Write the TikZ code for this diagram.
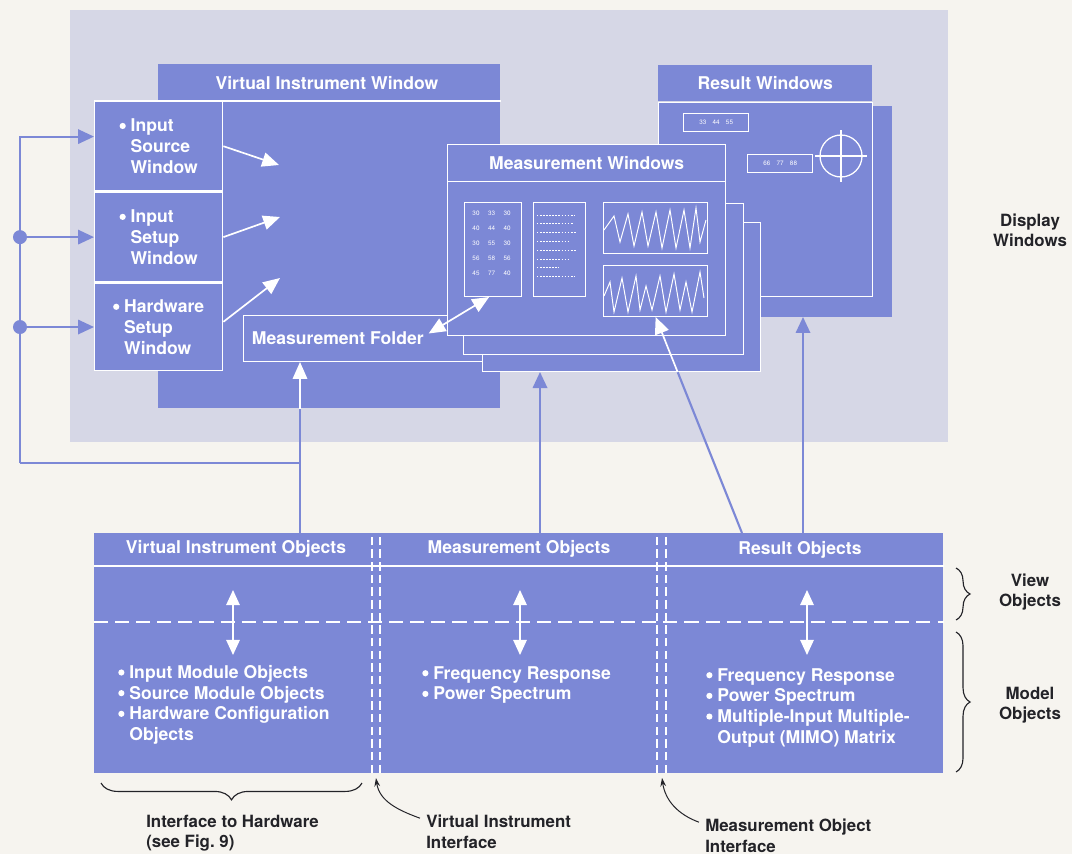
\documentclass[tikz,border=0pt]{standalone}
\usepackage{fontspec}
\setmainfont{TeX Gyre Heros}
\usetikzlibrary{positioning, arrows.meta, calc, decorations.pathreplacing}

\definecolor{paper}{RGB}{246,244,239}
\definecolor{panelgrey}{RGB}{214,215,230}
\definecolor{hpblue}{RGB}{124,136,214}
\definecolor{inkgrey}{RGB}{35,35,40}

\newcommand{\bul}{\tikz[baseline=-0.62ex]\fill[white] (0,0) circle (2.2pt);}
\newcommand{\hang}{\hphantom{\bul\ }}

\begin{document}
\begin{tikzpicture}[
  boxtext/.style={text=white, font=\bfseries\fontsize{12.5}{14.7}\selectfont, align=left},
  outtext/.style={text=inkgrey, font=\bfseries\fontsize{12}{14.5}\selectfont},
  bluebox/.style={fill=hpblue, inner sep=0pt, anchor=south west},
  winframe/.style={fill=hpblue, draw=white, line width=1pt, inner sep=0pt, anchor=south west},
  subframe/.style={draw=white, line width=0.9pt, inner sep=0pt, anchor=south west},
  panel/.style={winframe, anchor=north west, minimum width=3.2cm, boxtext},
  tinynum/.style={text=white, font=\fontsize{4.5}{5}\selectfont, inner sep=0pt},
  divider/.style={white, line width=1pt},
  ifline/.style={white, line width=0.9pt, dash pattern=on 6pt off 3pt},
  viewline/.style={white, line width=0.9pt, dash pattern=on 10pt off 5pt},
  whitearrow/.style={-{Triangle[length=0.42cm, width=0.36cm]}, white, line width=1.2pt},
  bluearrow/.style={-{Triangle[length=0.4cm, width=0.36cm]}, hpblue, line width=1.5pt},
  blueline/.style={hpblue, line width=1.5pt},
  dualarrow/.style={{Triangle[length=0.38cm, width=0.34cm]}-{Triangle[length=0.38cm, width=0.34cm]}, white, line width=1pt},
  callout/.style={-{Stealth[length=6pt, width=4pt]}, inkgrey, line width=0.7pt},
  curly/.style={decorate, decoration={brace, amplitude=#1}, inkgrey, line width=0.8pt},
  curly/.default=8pt,
]

%% ── Paper and display area ───────────────────────────────────────────────────
\fill[paper] (0,0) rectangle (26.8,21.35);
\useasboundingbox (0,0) rectangle (26.8,21.35);
\fill[panelgrey] (1.75,10.3) rectangle (23.7,21.1);

%% ── Virtual instrument window ────────────────────────────────────────────────
\node[bluebox, anchor=north west, minimum width=8.55cm, minimum height=8.6cm] (viwin) at (3.95,19.75) {};
\node[boxtext] (vititle) at (8.175,19.28) {Virtual Instrument Window};

\node[panel, minimum height=2.225cm] (p1) at (2.35,18.825) {\bul\ Input\\\hang Source\\\hang Window};
\node[panel, minimum height=2.25cm, below=0pt of p1] (p2) {\bul\ Input\\\hang Setup\\\hang Window};
\node[panel, minimum height=2.175cm, below=0pt of p2] (p3) {\bul\ Hardware\\\hang Setup\\\hang Window};
\draw[divider] (p1.north west) -- (p1.north west -| viwin.east);

\node[winframe, minimum width=8.925cm, minimum height=1.15cm] (folder) at (6.075,12.3) {};
\node[boxtext, anchor=west] (foldlbl) at ([xshift=1mm]folder.west) {Measurement Folder};

%% ── Result windows ───────────────────────────────────────────────────────────
\node[bluebox, minimum width=5.55cm, minimum height=5.275cm] (rshadow) at (16.75,13.425) {};
\node[winframe, minimum width=5.35cm, minimum height=4.85cm] (rwin) at (16.45,13.925) {};
\node[bluebox, minimum width=5.35cm, minimum height=0.9cm, boxtext, align=center] (rtbar) at (rwin.north west) {Result Windows};
\node[subframe, minimum width=1.625cm, minimum height=0.45cm] (rbox1) at (17.075,18.05) {};
\node[tinynum] at (rbox1) {33\quad 44\quad 55};
\node[subframe, minimum width=1.625cm, minimum height=0.45cm] (rbox2) at (18.675,17.025) {};
\node[tinynum] at (rbox2) {66\quad 77\quad 88};
\node[circle, draw=white, line width=0.9pt, minimum size=1.05cm] (target) at (21.025,17.45) {};
\draw[white, line width=0.9pt] ([xshift=-1mm]target.west) -- ([xshift=1mm]target.east);
\draw[white, line width=0.9pt] ([yshift=1mm]target.north) -- ([yshift=-1mm]target.south);

%% ── Measurement windows (stack) ──────────────────────────────────────────────
\node[winframe, minimum width=6.95cm, minimum height=3.725cm] (mw3) at (12.05,12.05) {};
\node[winframe, minimum width=7.0cm, minimum height=3.775cm] (mw2) at (11.575,12.475) {};
\node[winframe, minimum width=6.95cm, minimum height=4.775cm] (mw1) at (11.175,12.95) {};
\draw[divider] ($(mw1.north west)+(0,-0.95)$) -- ($(mw1.north east)+(0,-0.95)$);
\node[boxtext] (mwtitle) at ($(mw1.north)+(0,-0.49)$) {Measurement Windows};

\node[subframe, minimum width=1.425cm, minimum height=2.35cm] (tbl) at (11.6,13.925) {};
\node[subframe, minimum width=1.3cm, minimum height=2.35cm] (txt) at (13.325,13.925) {};
\node[subframe, minimum width=2.6cm, minimum height=1.275cm] (wave1) at (15.075,15.0) {};
\node[subframe, minimum width=2.6cm, minimum height=1.275cm] (wave2) at (15.075,13.425) {};

\foreach \row [count=\r from 0] in {{30,33,30},{40,44,40},{30,55,30},{56,58,56},{45,77,40}} {
  \foreach \val [count=\c from 0] in \row {
    \node[tinynum] at ({11.9+0.39*\c}, {16.025-0.375*\r}) {\val};
  }
}
\foreach \len [count=\r from 0] in {0.95,0.9,1.0,0.85,1.0,0.8,0.55,0.95} {
  \draw[white, line width=0.5pt, dash pattern=on 1.2pt off 1pt] (13.42,{15.975-0.22*\r}) -- ++(\len,0);
}

\draw[white, line width=0.7pt] (15.1,15.6) -- (15.35,15.95) -- (15.5,15.3) -- (15.7,16.0) -- (15.85,15.2)
  -- (16.05,16.05) -- (16.2,15.2) -- (16.4,16.05) -- (16.55,15.15) -- (16.75,16.1) -- (16.9,15.15)
  -- (17.1,16.1) -- (17.25,15.15) -- (17.4,16.15) -- (17.5,15.3) -- (17.65,15.85);
\draw[white, line width=0.7pt] (15.1,13.95) -- (15.25,14.3) -- (15.35,13.55) -- (15.55,14.4) -- (15.7,13.55)
  -- (15.9,14.45) -- (16.0,13.6) -- (16.15,14.2) -- (16.3,13.6) -- (16.5,14.45) -- (16.65,13.55)
  -- (16.85,14.5) -- (17.0,13.6) -- (17.15,14.3) -- (17.3,13.55) -- (17.5,14.55) -- (17.6,13.9);

%% ── Arrows inside the display windows ────────────────────────────────────────
\coordinate (vi1) at (6.975,17.225);
\coordinate (vi2) at (7.0,15.925);
\coordinate (vi3) at (7.0,14.4);
\draw[whitearrow] (p1.east) -- (vi1);
\draw[whitearrow] (p2.east) -- (vi2);
\draw[whitearrow] ([yshift=1.3mm]p3.east) -- (vi3);
\draw[{Triangle[length=0.42cm, width=0.36cm]}-{Triangle[length=0.42cm, width=0.36cm]}, white, line width=1.2pt]
  ([yshift=1.2mm]foldlbl.east) -- ([xshift=-1mm]tbl.south);

%% ── Object block ─────────────────────────────────────────────────────────────
\node[bluebox, minimum width=21.225cm, minimum height=6cm] (objblk) at (2.35,2.025) {};
\coordinate (hdr) at (2.35,7.2);
\coordinate (vm) at (2.35,5.8);
\draw[divider] (hdr) -- (hdr -| objblk.east);
\draw[viewline] (vm) -- (vm -| objblk.east);
\foreach \x in {9.3,9.5,16.425,16.65} {
  \draw[ifline] (\x,2.025) -- (\x,8.025);
}

\node[boxtext] (viobj) at (5.9,7.63) {Virtual Instrument Objects};
\node[boxtext] (mobj) at (12.975,7.63) {Measurement Objects};
\node[boxtext] (robj) at (20.0,7.6) {Result Objects};

\foreach \x in {5.825,13.0,20.175} {
  \draw[dualarrow] (\x,6.6) -- (\x,4.975);
}

\node[boxtext, anchor=north west, inner sep=0pt] (vilist) at (2.95,4.725)
  {\bul\ Input Module Objects\\\bul\ Source Module Objects\\\bul\ Hardware Configuration\\\hang Objects};
\node[boxtext, anchor=north west, inner sep=0pt] (mlist) at (10.55,4.7)
  {\bul\ Frequency Response\\\bul\ Power Spectrum};
\node[boxtext, anchor=north west, inner sep=0pt] (rlist) at (17.65,4.65)
  {\bul\ Frequency Response\\\bul\ Power Spectrum\\\bul\ Multiple-Input Multiple-\\\hang Output (MIMO) Matrix};

%% ── Connections objects -> windows ───────────────────────────────────────────
\coordinate (viup) at (7.5,8.025);
\coordinate (vibus) at (7.5,9.775);
\coordinate (lbus) at (0.5,9.775);
\coordinate (mup) at (13.5,8.025);
\coordinate (rup) at (20.075,8.025);
\coordinate (wup) at (18.55,8.025);
\coordinate (wcross) at ($(wup)!0.745!(wave2.south)$);

\draw[blueline] (viup) -- (viup |- viwin.south);
\draw[whitearrow] (viup |- viwin.south) -- (viup |- folder.south);
\draw[blueline] (vibus) -- (lbus);
\draw[bluearrow] (lbus) |- ([yshift=2.4mm]p1.west);
\draw[bluearrow] (lbus |- p2.west) -- (p2.west);
\draw[bluearrow] (lbus |- p3.west) -- (p3.west);
\fill[hpblue] (lbus |- p2.west) circle (0.175);
\fill[hpblue] (lbus |- p3.west) circle (0.175);

\draw[bluearrow] (mup) -- (mup |- mw3.south);
\draw[bluearrow] (rup) -- (rup |- rshadow.south);
\draw[blueline] (wup) -- (wcross);
\draw[whitearrow] (wcross) -- (wave2.south);

%% ── Outside labels and braces ────────────────────────────────────────────────
\node[outtext, align=center] (dispw) at (25.75,15.6) {Display\\Windows};
\node[outtext, align=center] (viewlbl) at (25.75,6.55) {View\\Objects};
\node[outtext, align=center] (modlbl) at (25.75,3.725) {Model\\Objects};
\draw[curly=10pt] (23.9,7.15) -- (23.9,5.85);
\draw[curly=10pt] (23.9,5.55) -- (23.9,2.05);
\draw[curly=12pt] (9.05,1.775) -- (2.525,1.775);

\node[outtext, align=left, anchor=north west, inner sep=0pt] (hwlbl) at (3.65,0.975) {Interface to Hardware\\(see Fig.~9)};
\node[outtext, align=left, anchor=north west, inner sep=0pt] (vilbl) at (10.65,0.975) {Virtual Instrument\\Interface};
\node[outtext, align=left, anchor=north west, inner sep=0pt] (molbl) at (17.625,0.875) {Measurement Object\\Interface};
\coordinate (viif) at (9.4,1.9);
\coordinate (moif) at (16.55,1.9);
\draw[callout] ([xshift=-1.5mm, yshift=-0.8mm]vilbl.north west) to[out=160, in=-82] (viif);
\draw[callout] ([xshift=-1.5mm, yshift=-0.8mm]molbl.north west) to[out=160, in=-82] (moif);

\end{tikzpicture}
\end{document}
